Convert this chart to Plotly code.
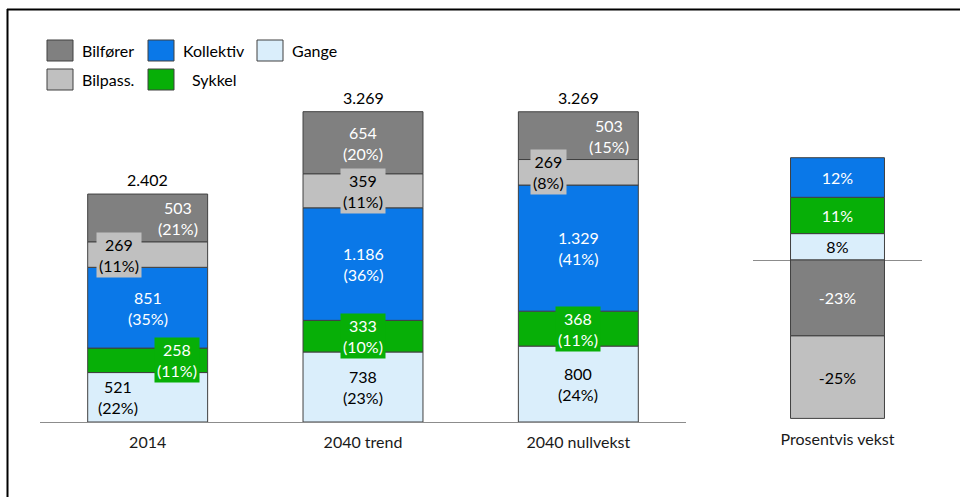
import plotly.graph_objects as go

# ---------------- data ----------------
categories = ["2014", "2040 trend", "2040 nullvekst"]
gange = [521, 738, 800]
sykkel = [258, 333, 368]
kollektiv = [851, 1186, 1329]
bilpass = [269, 359, 269]
bilforer = [503, 654, 503]

gange_pct = [22, 23, 24]
sykkel_pct = [11, 10, 11]
kollektiv_pct = [35, 36, 41]
bilpass_pct = [11, 11, 8]
bilforer_pct = [21, 20, 15]

totals = [2402, 3269, 3269]

growth_category = ["Prosentvis vekst"]
growth_modes = ["Gange", "Sykkel", "Kollektiv", "Bilfører", "Bilpass."]
growth_values = [8, 11, 12, -23, -25]

# ---------------- style ----------------
FONT = "Lato"
OUTLINE = "#404040"
colors = {
    "Bilfører": "#808080",
    "Bilpass.": "#C0C0C0",
    "Kollektiv": "#0A78E8",
    "Sykkel": "#07AF07",
    "Gange": "#DAEEFB",
}
text_colors = {
    "Bilfører": "white",
    "Bilpass.": "black",
    "Kollektiv": "white",
    "Sykkel": "white",
    "Gange": "black",
}
# manual horizontal label offsets (px), as in the original
label_shift = {
    ("Bilfører", 0): 30, ("Bilpass.", 0): -29, ("Sykkel", 0): 29, ("Gange", 0): -30,
    ("Bilfører", 2): 31, ("Bilpass.", 2): -30,
}

def fmt(v):
    return f"{v:,}".replace(",", ".")

stack = [
    ("Gange", gange, gange_pct),
    ("Sykkel", sykkel, sykkel_pct),
    ("Kollektiv", kollektiv, kollektiv_pct),
    ("Bilpass.", bilpass, bilpass_pct),
    ("Bilfører", bilforer, bilforer_pct),
]

fig = go.Figure()
annotations = []
base = [0] * len(categories)
for name, vals, pcts in stack:
    fig.add_trace(go.Bar(
        x=categories, y=vals, name=name, width=0.557,
        marker=dict(color=colors[name], line=dict(color=OUTLINE, width=1)),
        xaxis="x", yaxis="y", showlegend=False, hoverinfo="skip",
    ))
    for i, (v, p) in enumerate(zip(vals, pcts)):
        annotations.append(dict(
            x=i, y=base[i] + v / 2, xref="x", yref="y",
            text=f"{fmt(v)}<br>({p}%)", showarrow=False,
            xshift=label_shift.get((name, i), 0),
            font=dict(family=FONT, size=16, color=text_colors[name]),
            bgcolor=colors[name], borderpad=2,
        ))
        base[i] += v

for i, t in enumerate(totals):
    annotations.append(dict(
        x=i, y=t, xref="x", yref="y", text=fmt(t),
        showarrow=False, yanchor="bottom", yshift=3,
        font=dict(family=FONT, size=16, color="black"),
    ))

for name, v in zip(growth_modes, growth_values):
    fig.add_trace(go.Bar(
        x=growth_category, y=[v], name=name, width=0.556,
        marker=dict(color=colors[name], line=dict(color=OUTLINE, width=1)),
        text=[f"{v}%"], textposition="inside", insidetextanchor="middle",
        textangle=0, constraintext="none",
        textfont=dict(family=FONT, size=16, color=text_colors[name]),
        xaxis="x2", yaxis="y2", showlegend=False, hoverinfo="skip",
    ))

# ---------------- manual legend ----------------
W, H = 960, 497
def px(x):
    return x / W
def py(y):
    return 1 - y / H

legend_items = [
    ("Bilfører", 47, 40, 80),
    ("Kollektiv", 148, 40, 181),
    ("Gange", 257, 40, 290),
    ("Bilpass.", 47, 69, 80),
    ("Sykkel", 148, 69, 190),
]
shapes = []
for name, x0, y0, tx in legend_items:
    shapes.append(dict(
        type="rect", xref="paper", yref="paper",
        x0=px(x0), x1=px(x0 + 26), y0=py(y0), y1=py(y0 + 21),
        fillcolor=colors[name], line=dict(color=OUTLINE, width=1),
    ))
    annotations.append(dict(
        x=px(tx), y=py(y0 + 10.5), xref="paper", yref="paper",
        text=name, showarrow=False, xanchor="left", yanchor="middle",
        font=dict(family=FONT, size=16, color="black"),
    ))

# frame lines (left and top)
shapes.append(dict(type="line", xref="paper", yref="paper",
                   x0=px(7.5), x1=px(7.5), y0=py(9), y1=py(497),
                   line=dict(color="black", width=2)))
shapes.append(dict(type="line", xref="paper", yref="paper",
                   x0=px(7), x1=px(960), y0=py(9.5), y1=py(9.5),
                   line=dict(color="black", width=2)))

ydom = [75 / H, 1]
fig.update_layout(
    width=W, height=H,
    margin=dict(l=0, r=0, t=0, b=0),
    paper_bgcolor="white", plot_bgcolor="white",
    barmode="relative",
    font=dict(family=FONT, size=16, color="black"),
    xaxis=dict(domain=[40 / W, 686 / W], type="category", range=[-0.5, 2.5],
               anchor="y", showline=True, linecolor="#8C8C8C", linewidth=1,
               ticks="", showgrid=False, ticklabelstandoff=6,
               tickfont=dict(family=FONT, size=16, color="#1a1a1a")),
    yaxis=dict(domain=ydom, range=[0, 4447], visible=False),
    xaxis2=dict(domain=[753 / W, 922 / W], type="category", range=[-0.5, 0.5],
                anchor="y2", showline=False, ticks="", showgrid=False,
                ticklabelstandoff=6,
                tickfont=dict(family=FONT, size=16, color="#1a1a1a")),
    yaxis2=dict(domain=ydom, anchor="x2", range=[-49.09, 78.79],
                showticklabels=False, showgrid=False, ticks="",
                zeroline=True, zerolinecolor="#8C8C8C", zerolinewidth=1),
    annotations=annotations,
    shapes=shapes,
)

fig.write_html("out.html", config={"displayModeBar": False},
               post_script="document.body.style.margin='0';")
